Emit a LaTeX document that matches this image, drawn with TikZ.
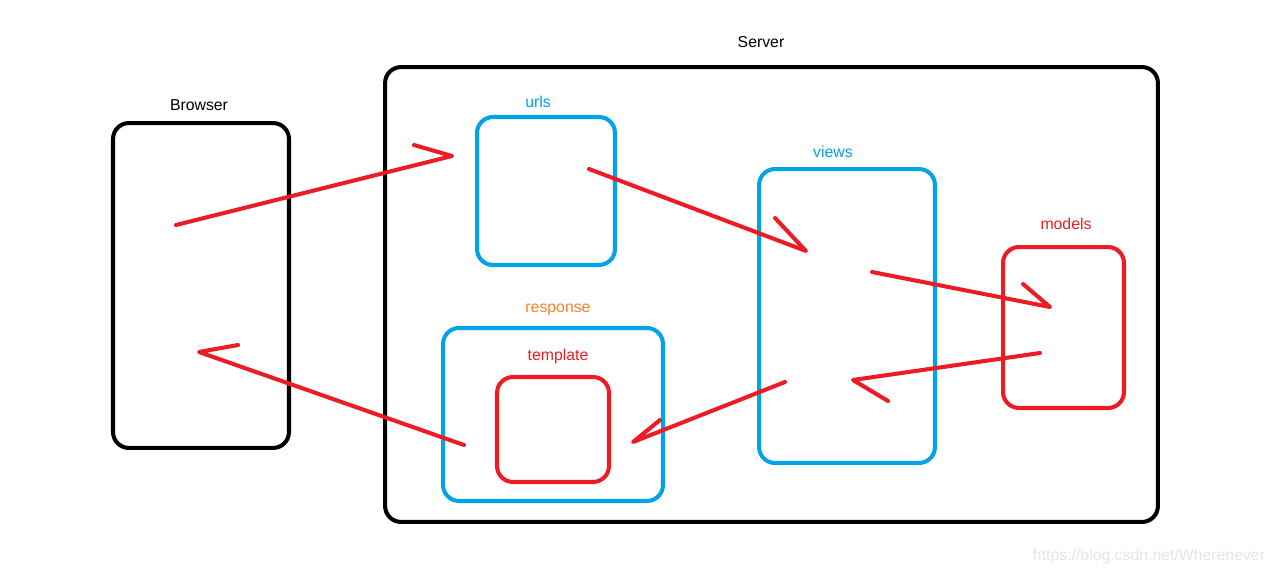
\documentclass[tikz,border=0pt]{standalone}
\usepackage{xcolor}
\usepackage{fontspec}
\setmainfont{Liberation Sans}
\definecolor{pblue}{RGB}{0,162,232}
\definecolor{pred}{RGB}{237,28,36}
\definecolor{porange}{RGB}{255,127,39}

\begin{document}
\begin{tikzpicture}[x=0.02cm, y=-0.02cm,
    box/.style={rectangle, draw, line width=2.3pt, rounded corners=0.32cm},
    lbl/.style={font=\fontsize{9}{11}\selectfont},
    flow/.style={pred, line width=2.3pt, line cap=round, line join=round}]
                                \useasboundingbox (0, 0) rectangle (1274, 575);

                                % boxes
                                \node (browser) at (201, 285.5) [box, minimum width=3.52cm, minimum height=6.5cm] {};
                                \node (server) at (771.5, 294.5) [box, minimum width=15.46cm, minimum height=9.1cm] {};
                                \node (urls) at (546, 191) [box, pblue, minimum width=2.76cm, minimum height=2.96cm] {};
                                \node (views) at (847, 316) [box, pblue, minimum width=3.52cm, minimum height=5.88cm] {};
                                \node (models) at (1063.5, 327.5) [box, pred, minimum width=2.42cm, minimum height=3.22cm] {};
                                \node (response) at (553, 414.5) [box, pblue, minimum width=4.4cm, minimum height=3.46cm] {};
                                \node (template) at (553, 429.5) [box, pred, minimum width=2.24cm, minimum height=2.1cm] {};

                                % labels
                                \node (browserlbl) at (199, 105) [lbl] {Browser};
                                \node (serverlbl) at (761, 42) [lbl] {Server};
                                \node (urlslbl) at (538, 102) [lbl, pblue] {urls};
                                \node (viewslbl) at (833, 152) [lbl, pblue] {views};
                                \node (modelslbl) at (1066, 224) [lbl, pred] {models};
                                \node (responselbl) at (558, 310) [lbl, porange] {response};
                                \node (templatelbl) at (558, 356) [lbl, pred] {template};
                                \node (mark) at (1149, 556) [lbl, black!10] {https://blog.csdn.net/Wherenever};

                                % hand drawn arrows: start, tip, barb
                                \coordinate (b1) at (176, 225);  \coordinate (u1) at (452, 156);  \coordinate (h1) at (414, 145);
                                \coordinate (u2) at (589, 169);  \coordinate (v2) at (806, 251);  \coordinate (h2) at (775, 218);
                                \coordinate (v3) at (872, 272);  \coordinate (m3) at (1050, 307); \coordinate (h3) at (1023, 284);
                                \coordinate (m4) at (1040, 353); \coordinate (v4) at (853, 380);  \coordinate (h4) at (888, 401);
                                \coordinate (v5) at (785, 382);  \coordinate (t5) at (633, 442);  \coordinate (h5) at (660, 420);
                                \coordinate (r6) at (464, 445);  \coordinate (b6) at (199, 352);  \coordinate (h6) at (238, 345);

                                \draw [flow] (b1) -- (u1) -- (h1);
                                \draw [flow] (u2) -- (v2) -- (h2);
                                \draw [flow] (v3) -- (m3) -- (h3);
                                \draw [flow] (m4) -- (v4) -- (h4);
                                \draw [flow] (v5) -- (t5) -- (h5);
                                \draw [flow] (r6) -- (b6) -- (h6);
                            \end{tikzpicture}
\end{document}
